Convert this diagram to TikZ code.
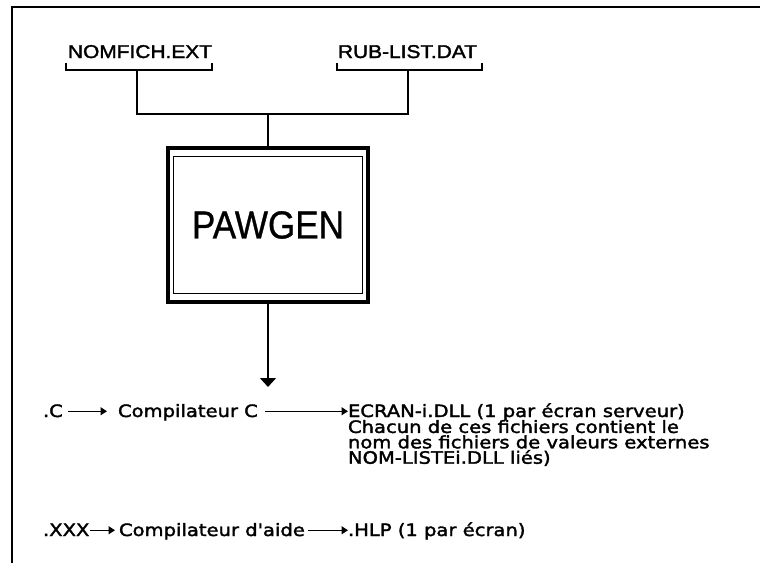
\documentclass[tikz,border=0pt]{standalone}
\usepackage{fontspec}
\usetikzlibrary{arrows.meta}
\newfontfamily\bodyfont[FakeStretch=1.15,FakeBold=2]{DejaVu Sans}
\newfontfamily\labfont[FakeStretch=1.13,FakeBold=1.8]{Liberation Sans}
\newfontfamily\titlefont[FakeStretch=0.9,FakeBold=0.8]{Liberation Sans}
\tikzset{
  txt/.style={inner sep=0pt, outer sep=0pt, anchor=base west,
    font=\bodyfont\fontsize{17}{15.4}\selectfont, text height=12.5pt, text depth=1pt},
  filelbl/.style={inner sep=0pt, outer sep=0pt, anchor=base west,
    font=\labfont\fontsize{18.5}{20}\selectfont},
  wire/.style={line width=1.3pt},
  flow/.style={line width=1.3pt, -{Triangle[width=8pt,length=6.5pt]}},
  pawbox/.style={draw, line width=4pt, outer sep=0pt, inner sep=0pt,
    minimum width=200pt, minimum height=154pt,
    font=\titlefont\fontsize{39}{40}\selectfont},
}
\begin{document}
\begin{tikzpicture}[x=1pt,y=-1pt]
\useasboundingbox[fill=white] (0,0) rectangle (760,563);
% frame along the top and left edges
\draw[line width=2.2pt] (760,7) -- (12,7) -- (12,563);

% input files
\node[filelbl] (nom) at (68,58) {NOMFICH.EXT};
\node[filelbl] (rub) at (338,58) {RUB-LIST.DAT};

\coordinate (nomL) at (66,63);
\coordinate (nomR) at (212,63);
\coordinate (nomM) at (137,70);
\coordinate (rubL) at (337,63);
\coordinate (rubR) at (482,63);
\coordinate (rubM) at (408,70);
\coordinate (nomJ) at (137,114);
\coordinate (rubJ) at (408,114);
\coordinate (midJ) at (268,114);

\draw[wire] (nomL) -- (nomL |- nomM) -- (nomR |- nomM) -- (nomR);
\draw[wire] (rubL) -- (rubL |- rubM) -- (rubR |- rubM) -- (rubR);
\draw[wire] (nomM) -- (nomJ) -- (rubJ) -- (rubM);

% generator box
\node[pawbox] (paw) at (268,225) {PAWGEN};
\draw[line width=1.4pt] ([shift={(5.5,8.5)}]paw.north west) rectangle ([shift={(-5.5,-8.5)}]paw.south east);
\draw[wire] (midJ) -- (paw.north);

\coordinate (outtip) at (268,387);
\draw[line width=1.3pt, -{Triangle[width=16pt,length=9pt]}] (paw.south) -- (outtip);

% C compilation chain
\node[txt] (csrc) at (43,417) {.C};
\node[txt] (ccomp) at (118,417) {Compilateur C};
\node[txt] (ecran) at (348,417) {ECRAN-i.DLL (1 par écran serveur)};
\node[txt, anchor=north west, align=left, text height=, text depth=]
  (ecrandesc) at (348,420) {Chacun de ces fichiers contient le\\nom des fichiers de valeurs externes\\NOM-LISTEi.DLL liés)};
\draw[flow] ([xshift=5pt]csrc.east) -- ([xshift=-11pt]ccomp.west);
\draw[flow] ([xshift=7pt]ccomp.east) -- (ecran.west);

% help compilation chain
\node[txt] (hsrc) at (43,536) {.XXX};
\node[txt] (hcomp) at (119,536) {Compilateur d'aide};
\node[txt] (hlp) at (348,536) {.HLP (1 par écran)};
\draw[flow] ([xshift=1pt]hsrc.east) -- ([xshift=-4pt]hcomp.west);
\draw[flow] ([xshift=3pt]hcomp.east) -- (hlp.west);
\end{tikzpicture}
\end{document}
